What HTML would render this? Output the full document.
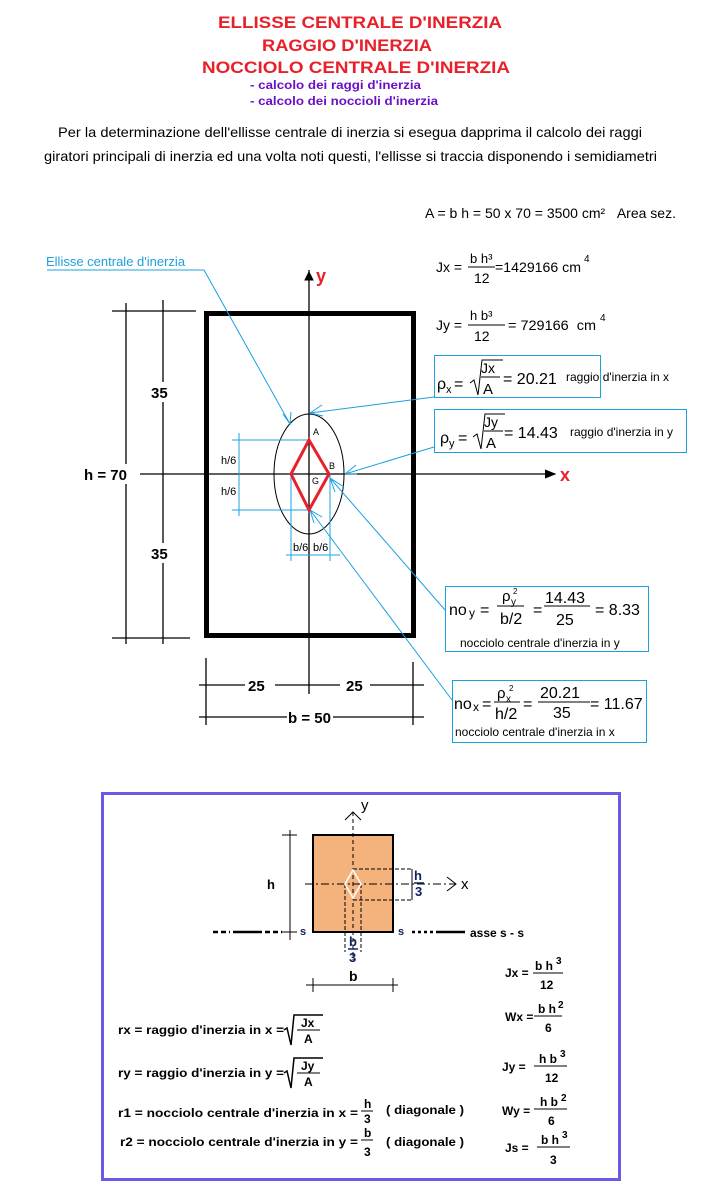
<!DOCTYPE html>
<html><head><meta charset="utf-8"><style>
html,body{margin:0;padding:0;background:#fff;}
svg{display:block;font-family:"Liberation Sans",Arial,sans-serif;}
</style></head><body>
<svg width="724" height="1200" viewBox="0 0 724 1200" xmlns="http://www.w3.org/2000/svg">
<!-- Titles -->
<g font-weight="bold" fill="#e8202a" font-size="17">
<text x="218" y="28" textLength="284" lengthAdjust="spacingAndGlyphs">ELLISSE CENTRALE D'INERZIA</text>
<text x="262" y="51" textLength="170" lengthAdjust="spacingAndGlyphs">RAGGIO D'INERZIA</text>
<text x="202" y="73" textLength="308" lengthAdjust="spacingAndGlyphs">NOCCIOLO CENTRALE D'INERZIA</text>
</g>
<g font-weight="bold" fill="#6a10c8" font-size="12">
<text x="250" y="89" textLength="171" lengthAdjust="spacingAndGlyphs">- calcolo dei raggi d'inerzia</text>
<text x="250" y="105" textLength="188" lengthAdjust="spacingAndGlyphs">- calcolo dei noccioli d'inerzia</text>
</g>
<g fill="#000" font-size="14">
<text x="58" y="137" textLength="584" lengthAdjust="spacingAndGlyphs">Per la determinazione dell'ellisse centrale di inerzia si esegua dapprima il calcolo dei raggi</text>
<text x="44" y="161" textLength="613" lengthAdjust="spacingAndGlyphs">giratori principali di inerzia ed una volta noti questi, l'ellisse si traccia disponendo i semidiametri</text>
</g>

<!-- Formulas right -->
<g font-size="14" fill="#000">
<text x="425" y="218">A = b h = 50 x 70 = 3500 cm² &#160;&#160;Area sez.</text>
<text x="436" y="272">Jx =</text>
<text x="470" y="263" font-size="13">b h³</text>
<line x1="468" y1="267" x2="495" y2="267" stroke="#000"/>
<text x="474" y="283">12</text>
<text x="495" y="272" textLength="86" lengthAdjust="spacingAndGlyphs">=1429166 cm</text><text x="584" y="262" font-size="10">4</text>
<text x="436" y="330">Jy =</text>
<text x="470" y="320" font-size="13">h b³</text>
<line x1="468" y1="325" x2="505" y2="325" stroke="#000"/>
<text x="474" y="341">12</text>
<text x="508" y="330" textLength="88" lengthAdjust="spacingAndGlyphs">= 729166 &#160;cm</text><text x="600" y="321" font-size="10">4</text>
</g>
<!-- rho boxes -->
<g fill="none" stroke="#1ca0e0" stroke-width="1">
<rect x="434.5" y="355.5" width="166" height="42"/>
<rect x="434.5" y="409.5" width="252" height="43"/>
<rect x="445.5" y="586.5" width="203" height="65"/>
<rect x="452.5" y="680.5" width="194" height="62"/>
</g>
<g fill="#000" font-size="16">
<text x="437" y="389">ρ</text><text x="446" y="393" font-size="11">x</text>
<text x="454" y="389">=</text>
<path d="M470 383 L474 380 L478 395 L482 360 L503 360" fill="none" stroke="#000"/>
<text x="481" y="373" font-size="14">Jx</text>
<line x1="481" y1="377" x2="500" y2="377" stroke="#000"/>
<text x="483" y="394" font-size="15">A</text>
<text x="503" y="384">= 20.21</text>
<text x="566" y="381" font-size="12">raggio d'inerzia in x</text>

<text x="440" y="443">ρ</text><text x="449" y="447" font-size="11">y</text>
<text x="458" y="443">=</text>
<path d="M473 437 L477 434 L481 449 L485 414 L505 414" fill="none" stroke="#000"/>
<text x="484" y="427" font-size="14">Jy</text>
<line x1="484" y1="431" x2="503" y2="431" stroke="#000"/>
<text x="486" y="448" font-size="15">A</text>
<text x="504" y="438">= 14.43</text>
<text x="570" y="436" font-size="12">raggio d'inerzia in y</text>

<text x="449" y="615">no</text><text x="469" y="617" font-size="12">y</text>
<text x="480" y="615">=</text>
<text x="502" y="601" font-size="15">ρ</text><text x="511" y="605" font-size="10">y</text><text x="513" y="594" font-size="8">2</text>
<line x1="497" y1="606" x2="524" y2="606" stroke="#000"/>
<text x="500" y="624">b/2</text>
<text x="533" y="615">=</text>
<text x="545" y="603">14.43</text>
<line x1="544" y1="606" x2="590" y2="606" stroke="#000"/>
<text x="556" y="625">25</text>
<text x="595" y="615">= 8.33</text>
<text x="460" y="647" font-size="12">nocciolo centrale d'inerzia in y</text>

<text x="454" y="709">no</text><text x="473" y="711" font-size="12">x</text>
<text x="482" y="709">=</text>
<text x="497" y="698" font-size="15">ρ</text><text x="506" y="702" font-size="10">x</text><text x="509" y="691" font-size="8">2</text>
<line x1="494" y1="702" x2="520" y2="702" stroke="#000"/>
<text x="495" y="719">h/2</text>
<text x="523" y="709">=</text>
<text x="540" y="698">20.21</text>
<line x1="538" y1="702" x2="590" y2="702" stroke="#000"/>
<text x="553" y="718">35</text>
<text x="590" y="709">= 11.67</text>
<text x="455" y="736" font-size="12">nocciolo centrale d'inerzia in x</text>
</g>

<!-- Main drawing -->
<rect x="206.5" y="313.5" width="207" height="322" fill="none" stroke="#000" stroke-width="5"/>
<g stroke="#000" stroke-width="1.3" fill="none">
<line x1="309" y1="270" x2="309" y2="694"/>
<line x1="140" y1="474" x2="555" y2="474"/>
<line x1="126" y1="303" x2="126" y2="644"/>
<line x1="163" y1="300" x2="163" y2="644"/>
<line x1="112" y1="311" x2="196" y2="311"/>
<line x1="112" y1="638" x2="190" y2="638"/>
<line x1="199" y1="685" x2="424" y2="685"/>
<line x1="199" y1="717" x2="424" y2="717"/>
<line x1="206" y1="658" x2="206" y2="725"/>
<line x1="413" y1="662" x2="413" y2="725"/>
<ellipse cx="309" cy="474" rx="35" ry="60" stroke-width="1"/>
</g>
<path d="M305 280 L309 272 L313 280 Z M545 470 L555 474 L545 478" fill="#000" stroke="#000"/>
<text x="316" y="282" fill="#e8202a" font-size="18" font-weight="bold">y</text>
<text x="560" y="481" fill="#e8202a" font-size="18" font-weight="bold">x</text>
<g font-weight="bold" font-size="15" fill="#000">
<rect x="145" y="382" width="30" height="20" fill="#fff"/>
<text x="151" y="398">35</text>
<rect x="145" y="543" width="30" height="20" fill="#fff"/>
<text x="151" y="559">35</text>
<rect x="82" y="464" width="52" height="20" fill="#fff"/>
<text x="84" y="480">h = 70</text>
<rect x="245" y="676" width="30" height="18" fill="#fff"/>
<text x="248" y="691">25</text>
<rect x="340" y="676" width="30" height="18" fill="#fff"/>
<text x="346" y="691">25</text>
<rect x="287" y="708" width="46" height="18" fill="#fff"/>
<text x="288" y="723">b = 50</text>
</g>
<!-- nucleus -->
<g stroke="#1ca0e0" stroke-width="1" fill="none">
<line x1="239" y1="433" x2="239" y2="516"/>
<line x1="232" y1="440" x2="309" y2="440"/>
<line x1="232" y1="510" x2="309" y2="510"/>
<line x1="291" y1="474" x2="291" y2="561"/>
<line x1="330" y1="474" x2="330" y2="561"/>
<line x1="286" y1="555" x2="340" y2="555"/>
<path d="M47 270 L204 270 L290 424"/>
<path d="M283 414 L290 424 L291 412"/>
<path d="M434 397 L310 413 M310 413 L322 405 M310 413 L323 416"/>
<path d="M434 447 L345 474 M345 474 L356 465 M345 474 L357 474"/>
<path d="M445 610 L330 478 M330 478 L335 492 M330 478 L344 487"/>
<path d="M452 700 L310 510 M310 510 L314 523 M310 510 L322 517"/>
</g>
<text x="46" y="266" fill="#1ca0e0" font-size="13">Ellisse centrale d'inerzia</text>
<path d="M309 440 L329 474 L309 510 L291 474 Z" fill="none" stroke="#e8202a" stroke-width="3"/>
<g font-size="11" fill="#000">
<text x="221" y="464">h/6</text>
<text x="221" y="495">h/6</text>
<text x="293" y="551">b/6</text>
<text x="313" y="551">b/6</text>
<text x="313" y="435" font-size="9">A</text>
<text x="329" y="469" font-size="9">B</text>
<text x="312" y="484" font-size="9">G</text>
</g>

<!-- bottom panel -->
<rect x="102.5" y="793.5" width="517" height="386" fill="none" stroke="#6a5ae8" stroke-width="3"/>
<rect x="313" y="835" width="80" height="97" fill="#f4b27c" stroke="#000" stroke-width="2"/>
<g stroke="#000" stroke-width="1" fill="none">
<line x1="353" y1="812" x2="353" y2="960" stroke-dasharray="4,3"/>
<path d="M345 820 L353 812 L361 820"/>
<line x1="305" y1="884" x2="455" y2="884" stroke-dasharray="8,3,2,3"/>
<path d="M447 877 L456 884 L447 891"/>
<line x1="290" y1="830" x2="290" y2="940"/>
<line x1="282" y1="835" x2="297" y2="835"/>
<line x1="282" y1="932" x2="297" y2="932"/>
<line x1="353" y1="869" x2="412" y2="869" stroke-dasharray="4,2"/>
<line x1="353" y1="900" x2="412" y2="900" stroke-dasharray="4,2"/>
<line x1="412" y1="869" x2="412" y2="900"/>
<line x1="345" y1="884" x2="345" y2="952" stroke-dasharray="4,2"/>
<line x1="361" y1="884" x2="361" y2="952" stroke-dasharray="4,2"/>
<line x1="306" y1="985" x2="398" y2="985"/>
<line x1="313" y1="978" x2="313" y2="992"/>
<line x1="393" y1="978" x2="393" y2="992"/>
</g>
<path d="M353 870 L361 884 L353 898 L345 884 Z" fill="none" stroke="#fff" stroke-width="1.5"/>
<g stroke="#000" stroke-width="2.5">
<line x1="213" y1="932" x2="230" y2="932" stroke-dasharray="5,3"/>
<line x1="233" y1="932" x2="262" y2="932"/>
<line x1="265" y1="932" x2="282" y2="932" stroke-dasharray="5,3"/>
<line x1="412" y1="932" x2="433" y2="932" stroke-dasharray="3,3"/>
<line x1="436" y1="932" x2="465" y2="932"/>
</g>
<g fill="#000">
<text x="361" y="810" font-size="15">y</text>
<text x="461" y="889" font-size="15">x</text>
<text x="267" y="889" font-size="13" font-weight="bold">h</text>
<text x="300" y="935" font-size="11" font-weight="bold" fill="#102060">s</text>
<text x="398" y="935" font-size="11" font-weight="bold" fill="#102060">s</text>
<text x="470" y="937" font-size="12" font-weight="bold">asse s - s</text>
<g font-weight="bold" font-size="13" fill="#102060">
<text x="414" y="880">h</text><line x1="414" y1="883" x2="424" y2="883" stroke="#102060" stroke-width="1.5"/><text x="415" y="896">3</text>
<text x="349" y="946">b</text><line x1="348" y1="949" x2="358" y2="949" stroke="#102060" stroke-width="1.5"/><text x="349" y="962">3</text>
</g>
<text x="349" y="981" font-size="14" font-weight="bold">b</text>
</g>
<g font-weight="bold" font-size="12" fill="#000">
<text x="118" y="1034" textLength="166" lengthAdjust="spacingAndGlyphs">rx = raggio d'inerzia in x =</text>
<path d="M284 1030 L287 1028 L291 1045 L294 1015 L323 1015" fill="none" stroke="#000" stroke-width="1.5"/>
<text x="301" y="1027">Jx</text><line x1="297" y1="1030" x2="320" y2="1030" stroke="#000"/><text x="304" y="1043">A</text>
<text x="118" y="1077" textLength="166" lengthAdjust="spacingAndGlyphs">ry = raggio d'inerzia in y =</text>
<path d="M284 1073 L287 1071 L291 1088 L294 1058 L323 1058" fill="none" stroke="#000" stroke-width="1.5"/>
<text x="301" y="1070">Jy</text><line x1="297" y1="1073" x2="320" y2="1073" stroke="#000"/><text x="304" y="1086">A</text>
<text x="118" y="1117" textLength="240" lengthAdjust="spacingAndGlyphs">r1 = nocciolo centrale d'inerzia in x =</text>
<text x="364" y="1108">h</text><line x1="361" y1="1111" x2="373" y2="1111" stroke="#000"/><text x="364" y="1123">3</text>
<text x="386" y="1114" textLength="78" lengthAdjust="spacingAndGlyphs">( diagonale )</text>
<text x="120" y="1146" textLength="238" lengthAdjust="spacingAndGlyphs">r2 = nocciolo centrale d'inerzia in y =</text>
<text x="364" y="1137">b</text><line x1="361" y1="1140" x2="373" y2="1140" stroke="#000"/><text x="364" y="1156">3</text>
<text x="386" y="1146" textLength="78" lengthAdjust="spacingAndGlyphs">( diagonale )</text>

<text x="505" y="977">Jx =</text><text x="535" y="970">b h</text><text x="556" y="964" font-size="10">3</text><line x1="533" y1="973" x2="563" y2="973" stroke="#000"/><text x="540" y="989">12</text>
<text x="505" y="1021">Wx =</text><text x="538" y="1013">b h</text><text x="558" y="1008" font-size="10">2</text><line x1="534" y1="1016" x2="562" y2="1016" stroke="#000"/><text x="545" y="1032">6</text>
<text x="502" y="1071">Jy =</text><text x="539" y="1063">h b</text><text x="560" y="1057" font-size="10">3</text><line x1="534" y1="1066" x2="567" y2="1066" stroke="#000"/><text x="545" y="1082">12</text>
<text x="502" y="1115">Wy =</text><text x="540" y="1106">h b</text><text x="561" y="1101" font-size="10">2</text><line x1="534" y1="1109" x2="567" y2="1109" stroke="#000"/><text x="548" y="1125">6</text>
<text x="505" y="1152">Js =</text><text x="541" y="1144">b h</text><text x="562" y="1138" font-size="10">3</text><line x1="537" y1="1147" x2="570" y2="1147" stroke="#000"/><text x="550" y="1164">3</text>
</g>
</svg>
</body></html>
